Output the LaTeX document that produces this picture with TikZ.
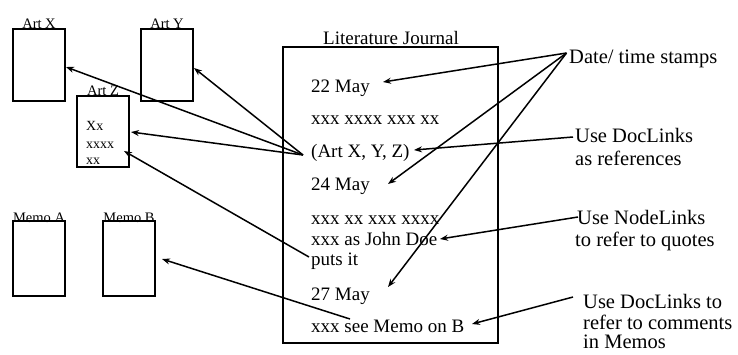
\documentclass[tikz,border=0pt]{standalone}
\usepackage{fontspec}
\setmainfont{Liberation Serif}
\usetikzlibrary{arrows.meta}
\begin{document}
\begin{tikzpicture}[x=1pt,y=-1pt,
  doc/.style={draw, line width=2pt, inner sep=0},
  lbl/.style={anchor=base, inner sep=0, font=\fontsize{14.5}{16}\selectfont},
  small/.style={anchor=base west, inner sep=0, font=\fontsize{14}{16}\selectfont},
  body/.style={anchor=base west, inner sep=0, font=\fontsize{19}{21}\selectfont},
  note/.style={anchor=base west, inner sep=0, font=\fontsize{20.5}{23}\selectfont},
  link/.style={line width=1.5pt, -{Stealth[length=8pt,width=6pt]}}]
\useasboundingbox (0,0) rectangle (738,354);

% document boxes
\node[doc, minimum width=52pt, minimum height=72pt] (artx) at (39,65) {};
\node[doc, minimum width=52pt, minimum height=72pt] (arty) at (167,65) {};
\node[doc, minimum width=52pt, minimum height=71pt] (artz) at (103,131.5) {};
\node[doc, minimum width=52pt, minimum height=75pt] (memoa) at (39,258.5) {};
\node[doc, minimum width=52pt, minimum height=75pt] (memob) at (129,258.5) {};
\node[doc, minimum width=215pt, minimum height=296pt] (journal) at (390.5,195) {};

% labels
\node[lbl] (lx) at (39,28) {Art X};
\node[lbl] (ly) at (167,28) {Art Y};
\node[lbl] (lz) at (103,95) {Art Z};
\node[lbl] (lma) at (39,222) {Memo A};
\node[lbl] (lmb) at (129,222) {Memo B};
\node[anchor=base, inner sep=0, font=\fontsize{19}{21}\selectfont] (lj) at (391,44) {Literature Journal};

% Art Z contents
\node[small] (z1) at (86,130) {Xx};
\node[small] (z2) at (86,148) {xxxx};
\node[small] (z3) at (86,164) {xx};

% journal contents
\node[body] (j1) at (311,92.5) {22 May};
\node[body] (j2) at (311,124) {xxx xxxx xxx xx};
\node[body] (j3) at (311,157) {(Art X, Y, Z)};
\node[body] (j4) at (311,190) {24 May};
\node[body] (j5) at (311,224) {xxx xx xxx xxxx};
\node[body] (j6) at (311,245) {xxx as John Doe};
\node[body] (j7) at (311,265) {puts it};
\node[body] (j8) at (311,300) {27 May};
\node[body] (j9) at (311,332) {xxx see Memo on B};

% notes
\node[note] (n1) at (569,63) {Date/ time stamps};
\node[note] (n2a) at (575,142) {Use DocLinks};
\node[note] (n2b) at (575,165) {as references};
\node[note] (n3a) at (577,224) {Use NodeLinks};
\node[note] (n3b) at (575,246) {to refer to quotes};
\node[note] (n4a) at (583,308) {Use DocLinks to};
\node[note] (n4b) at (583,329) {refer to comments};
\node[note] (n4c) at (583,348) {in Memos};

% connector end points
\coordinate (dtsP) at (566.5,53);
\coordinate (t22) at (383,82);
\coordinate (t24) at (388,184);
\coordinate (t27) at (388,287);
\coordinate (artP) at (303,155);
\coordinate (txX) at (66,67);
\coordinate (txY) at (194,68);
\coordinate (txZ) at (131,132);
\coordinate (dl1P) at (573,137);
\coordinate (tArt) at (414,150);
\coordinate (putsP) at (309,257);
\coordinate (txZ2) at (124,151);
\coordinate (nlP) at (578,217);
\coordinate (tDoe) at (440,239);
\coordinate (memoP) at (350,319);
\coordinate (txB) at (162,259);
\coordinate (dl2P) at (573,297);
\coordinate (tB) at (472,324);

\draw[link] (dtsP) -- (t22);
\draw[link] (dtsP) -- (t24);
\draw[link] (dtsP) -- (t27);
\draw[link] (artP) -- (txX);
\draw[link] (artP) -- (txY);
\draw[link] (artP) -- (txZ);
\draw[link] (dl1P) -- (tArt);
\draw[link] (putsP) -- (txZ2);
\draw[link] (nlP) -- (tDoe);
\draw[link] (memoP) -- (txB);
\draw[link] (dl2P) -- (tB);
\end{tikzpicture}
\end{document}
